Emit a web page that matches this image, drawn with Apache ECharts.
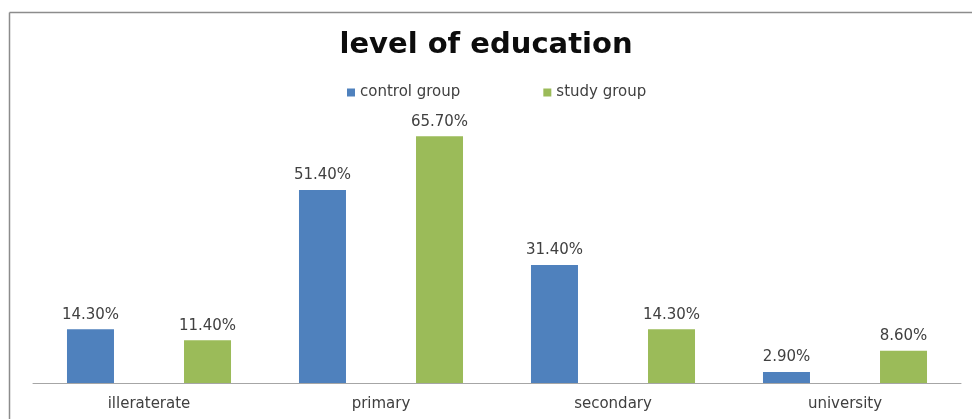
<!DOCTYPE html>
<html>
<head>
<meta charset="utf-8">
<script src="https://cdn.jsdelivr.net/npm/echarts@6/dist/echarts.min.js"></script>
<style>
html,body{margin:0;padding:0;background:#fff;}
#c{width:972px;height:419px;}
</style>
</head>
<body>
<div id="c"></div>
<script>
const categories = ['illeraterate', 'primary', 'secondary', 'university'];
const controlGroup = [14.3, 51.4, 31.4, 2.9];
const studyGroup = [11.4, 65.7, 14.3, 8.6];
const seriesNames = ['control group', 'study group'];

const chart = echarts.init(document.getElementById('c'), null, {renderer: 'canvas'});
const FONT = '"DejaVu Sans", sans-serif';
const labelCfg = {
  show: true, position: 'top', distance: 7,
  color: '#404040', fontSize: 15, fontFamily: FONT,
  formatter: p => p.value.toFixed(2) + '%'
};
chart.setOption({
  animation: false,
  backgroundColor: '#fff',
  title: {
    text: 'level of education', left: 'center', top: 26,
    textStyle: {fontSize: 29, fontWeight: 'bold', color: '#0d0d0d', fontFamily: FONT}
  },
  legend: {
    top: 80, left: 342, itemWidth: 8, itemHeight: 8, itemGap: 83,
    icon: 'rect',
    textStyle: {fontSize: 15, color: '#404040', fontFamily: FONT},
    data: seriesNames
  },
  grid: {left: 33, right: 11, top: 120, bottom: 36, containLabel: false},
  xAxis: {
    type: 'category', data: categories,
    axisLine: {lineStyle: {color: '#a6a6a6'}},
    axisTick: {show: false},
    axisLabel: {fontSize: 15, color: '#404040', fontFamily: FONT, margin: 14}
  },
  yAxis: {type: 'value', min: 0, max: 70, show: false, splitLine: {show: false}},
  graphic: [
    {type: 'line', shape: {x1: 9.5, y1: 12.5, x2: 972, y2: 12.5}, style: {stroke: '#8c8c8c', lineWidth: 1.5}},
    {type: 'line', shape: {x1: 9.5, y1: 12.5, x2: 9.5, y2: 419}, style: {stroke: '#8c8c8c', lineWidth: 1.5}}
  ],
  series: [
    {name: seriesNames[0], type: 'bar', data: controlGroup, barWidth: 47, barGap: '149%',
     itemStyle: {color: '#4f81bd'}, label: labelCfg},
    {name: seriesNames[1], type: 'bar', data: studyGroup, barWidth: 47,
     itemStyle: {color: '#9bbb59'}, label: labelCfg}
  ]
});
</script>
</body>
</html>
